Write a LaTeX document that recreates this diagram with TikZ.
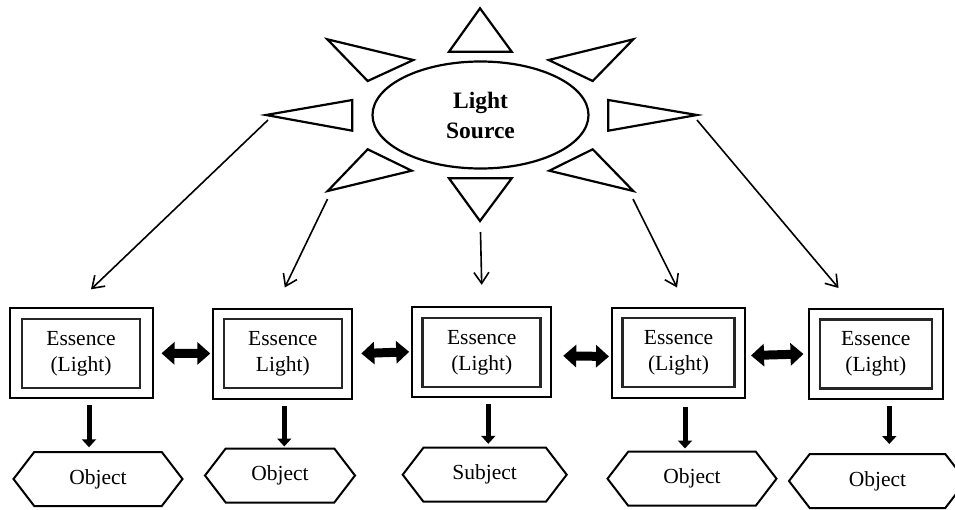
\documentclass[tikz,border=0pt]{standalone}
\usepackage{fontspec}
\setmainfont{Liberation Serif}
\usepackage{tikz}
\usetikzlibrary{shapes.geometric,shapes.symbols,arrows.meta,positioning}
\tikzstyle{sun} = [ellipse, draw, line width=2.2pt, minimum width=216pt, minimum height=107pt, inner sep=0pt, text centered, align=center, font=\fontsize{23.5}{30}\selectfont\bfseries]
\tikzstyle{ray} = [line width=2.2pt, line join=miter]
\tikzstyle{outerbox} = [rectangle, draw, line width=2pt, minimum width=139pt, minimum height=90pt]
\tikzstyle{innerbox} = [rectangle, draw=black!85, line width=2.6pt, minimum width=118pt, minimum height=69pt, text centered, align=center, font=\fontsize{21.5}{26}\selectfont]
\tikzstyle{hexbox} = [signal, signal to=west and east, signal pointer angle=105, draw, line width=2pt, minimum width=169pt, minimum height=54pt, inner sep=0pt, font=\fontsize{21.5}{26}\selectfont]
\tikzstyle{arrow} = [line width=1.6pt, -{Straight Barb[length=11pt,width=15pt]}]
\tikzstyle{twoway} = [line width=9pt, {Triangle[length=13pt,width=22pt]}-{Triangle[length=13pt,width=22pt]}]
\tikzstyle{downarrow} = [line width=5pt, -{Triangle[length=8pt,width=14pt]}]

\begin{document}
\begin{tikzpicture}[x=1pt, y=-1pt]
\useasboundingbox (0,0) rectangle (955,509);

% light source and its rays
\node(source) [sun] at (480.5,115) {Light\\Source};
\draw [ray] (480,8.3) -- (511.7,51.7) -- (449,51.7) -- cycle;
\draw [ray] (449,178.3) -- (511.7,178.3) -- (480,221) -- cycle;
\draw [ray] (327.3,39.3) -- (413.3,60) -- (367.7,81) -- cycle;
\draw [ray] (633.3,39.3) -- (548.7,60) -- (592.7,81) -- cycle;
\draw [ray] (352.3,100) -- (352.3,130.7) -- (266,115) -- cycle;
\draw [ray] (608.3,100) -- (608.3,130.7) -- (697,115) -- cycle;
\draw [ray] (367.7,149.3) -- (411.7,170.7) -- (327.7,191) -- cycle;
\draw [ray] (592.7,149.3) -- (549.3,170.7) -- (633.3,191) -- cycle;

\coordinate (rayW) at (268,120);
\coordinate (raySW) at (327.5,199);
\coordinate (rayS) at (480.5,232);
\coordinate (raySE) at (633,199);
\coordinate (rayE) at (697,120);

% essence boxes
\node(ess1) [outerbox, minimum width=143pt] at (81,353.3) {};
\node(essin1) [innerbox] at (81,353.3) {Essence\\(Light)};
\node(ess2) [outerbox] at (282.8,353.5) {};
\node(essin2) [innerbox] at (282.8,353.5) {Essence\\Light)};
\node(ess3) [outerbox] at (481.7,351.8) {};
\node(essin3) [innerbox] at (481.7,352.3) {Essence\\(Light)};
\node(ess4) [outerbox, minimum width=133pt] at (678.5,352.5) {};
\node(essin4) [innerbox, minimum width=112pt] at (678.5,352.5) {Essence\\(Light)};
\node(ess5) [outerbox, minimum width=134pt] at (875.5,354) {};
\node(essin5) [innerbox, minimum width=112pt] at (875.8,354) {Essence\\(Light)};

% objects and subject
\node(obj1) [hexbox] at (98,479) {Object};
\node(obj2) [hexbox, minimum width=150pt] at (280,475.5) {Object};
\node(subj) [hexbox, minimum width=164pt] at (484.7,474.7) {Subject};
\node(obj4) [hexbox] at (692,478.7) {Object};
\node(obj5) [hexbox, minimum width=177pt] at (877.5,481) {Object};

\draw [arrow] (rayW) -- ([xshift=10pt,yshift=18pt]ess1.north);
\draw [arrow] (raySW) -- ([xshift=2pt,yshift=20pt]ess2.north);
\draw [arrow] (rayS) -- ([yshift=21pt]ess3.north);
\draw [arrow] (raySE) -- ([xshift=-1.5pt,yshift=19pt]ess4.north);
\draw [arrow] (rayE) -- ([xshift=-37pt,yshift=20pt]ess5.north);

\draw [twoway] ([xshift=8pt]ess1.east) -- ([xshift=-2pt]ess2.west);
\draw [twoway] ([xshift=8pt]ess2.east) -- ([xshift=-2pt]ess3.west);
\draw [twoway] ([xshift=11pt,yshift=-4pt]ess3.east) -- ([xshift=-2pt,yshift=-4pt]ess4.west);
\draw [twoway] ([xshift=5pt,yshift=-3pt]ess4.east) -- ([xshift=-4pt]ess5.west);

\draw [downarrow] ([xshift=8pt,yshift=-6pt]ess1.south) -- ++(0,42);
\draw [downarrow] ([xshift=1.5pt,yshift=-6pt]ess2.south) -- ++(0,41);
\draw [downarrow] ([xshift=6.6pt,yshift=-6pt]ess3.south) -- ++(0,40);
\draw [downarrow] ([xshift=6.5pt,yshift=-8pt]ess4.south) -- ++(0,42);
\draw [downarrow] ([xshift=13.8pt,yshift=-6pt]ess5.south) -- ++(0,38);

\end{tikzpicture}
\end{document}
